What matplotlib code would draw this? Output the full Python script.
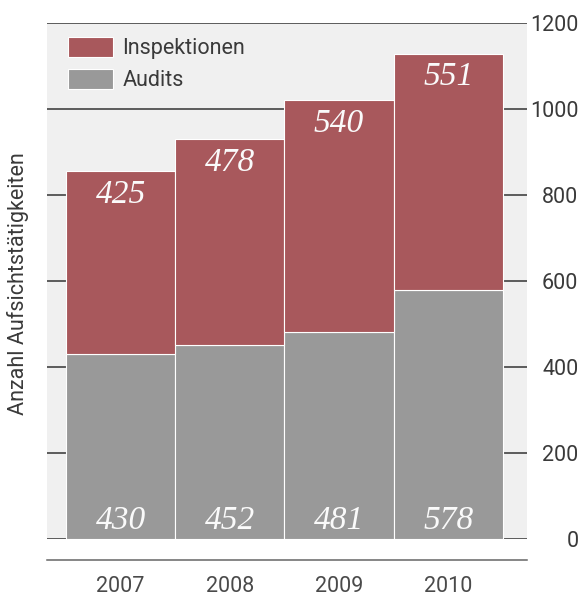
import matplotlib.pyplot as plt
from matplotlib.lines import Line2D

years = ["2007", "2008", "2009", "2010"]
audits = [430, 452, 481, 578]
inspektionen = [425, 478, 540, 551]
y_ticks = [0, 200, 400, 600, 800, 1000, 1200]

RED = "#a8585c"
GREY = "#999999"
PANEL = "#f0f0f0"
TEXT = "#3a3a3a"
FS = 15.5

plt.rcParams["font.family"] = ["Roboto", "DejaVu Sans"]

W, H = 584, 596
fig = plt.figure(figsize=(W / 100, H / 100), dpi=100)
ax = fig.add_axes([47 / W, (H - 539) / H, 480 / W, 516 / H])
ax.set_facecolor(PANEL)

x = range(len(years))
b1 = ax.bar(x, audits, width=1.0, color=GREY, edgecolor="white", linewidth=0.8,
            label="Audits", zorder=2)
b2 = ax.bar(x, inspektionen, width=1.0, bottom=audits, color=RED, edgecolor="white",
            linewidth=0.8, label="Inspektionen", zorder=2)

# value labels: inspections near the top of the stack, audits near the base
for i in x:
    top = audits[i] + inspektionen[i]
    ax.annotate(str(inspektionen[i]), (i, top), xytext=(0, -6), textcoords="offset points",
                ha="center", va="top", color="#fafafa", fontsize=24,
                family="Liberation Serif", style="italic", zorder=3)
    ax.annotate(str(audits[i]), (i, 0), xytext=(0, 2), textcoords="offset points",
                ha="center", va="bottom", color="#fafafa", fontsize=24,
                family="Liberation Serif", style="italic", zorder=3)

ax.set_xlim(-0.674, 3.72)
ax.set_ylim(0, 1200)
ax.set_yticks(y_ticks)
ax.yaxis.tick_right()
ax.tick_params(axis="y", length=0, pad=37, labelsize=FS, labelcolor=TEXT)
for lab in ax.get_yticklabels():
    lab.set_horizontalalignment("right")
ax.set_xticks(list(x))
ax.set_xticklabels(years)
ax.tick_params(axis="x", length=0, pad=27, labelsize=FS, labelcolor="#4a4a4a")

ax.set_axisbelow(True)
ax.yaxis.grid(True, color="#333333", linewidth=1.1)
ax.xaxis.grid(False)
for s in ax.spines.values():
    s.set_visible(False)

leg = ax.legend(handles=[b2, b1], loc="upper left", frameon=False,
                bbox_to_anchor=(0.025, 0.99), handlelength=2.1, handleheight=1.06,
                handletextpad=0.45, labelspacing=0.45, borderaxespad=0,
                prop={"size": FS})
for t in leg.get_texts():
    t.set_color(TEXT)

fig.text(18 / W, (H - 284) / H, "Anzahl Aufsichtstätigkeiten", rotation=90,
         ha="center", va="center", fontsize=FS, color=TEXT)

# second rule below the plotting panel
fig.add_artist(Line2D([47 / W, 527 / W], [(H - 560) / H] * 2, color="#666666",
                      linewidth=1.1, transform=fig.transFigure))

fig.savefig("out.png", dpi=100)
